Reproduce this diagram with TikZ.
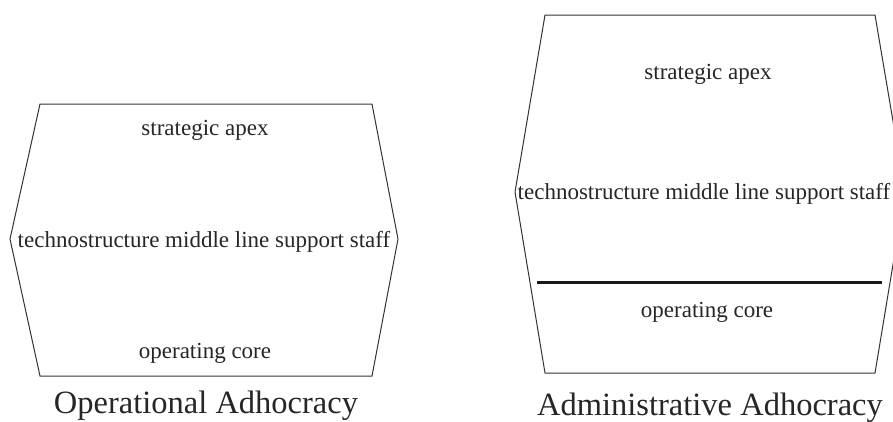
\documentclass[tikz,border=0pt]{standalone}
\usepackage{fontspec}
\setmainfont{Liberation Serif}
\begin{document}
\begin{tikzpicture}[x=1pt,y=-1pt,
  hexline/.style={draw=black!80, line width=1pt, line join=miter},
  divider/.style={draw=black!90, line width=3pt},
  lbl/.style={font=\fontsize{23}{27}\selectfont, inner sep=0pt, anchor=base, text=black!85},
  captiontext/.style={font=\fontsize{32.5}{38}\selectfont, inner sep=0pt, anchor=base, text=black!85}]
\useasboundingbox (0,0) rectangle (893,421);
% left hexagon
\coordinate (La) at (40,104);
\coordinate (Lb) at (372,104);
\coordinate (Lc) at (398,239);
\coordinate (Ld) at (372,376);
\coordinate (Le) at (40,376);
\coordinate (Lf) at (10,239);
\draw[hexline] (La) -- (Lb) -- (Lc) -- (Ld) -- (Le) -- (Lf) -- cycle;
\node[lbl] (lapex) at (205,135) {strategic apex};
\node[lbl] (lmid) at (204,247) {technostructure middle line support staff};
\node[lbl] (lcore) at (205,358) {operating core};
\node[captiontext] (lcap) at (206,413) {Operational Adhocracy};
% right hexagon
\coordinate (Ra) at (545,15);
\coordinate (Rb) at (875,15);
\coordinate (Rc) at (905,192);
\coordinate (Rd) at (875,373);
\coordinate (Re) at (545,373);
\coordinate (Rf) at (515,192);
\draw[hexline] (Ra) -- (Rb) -- (Rc) -- (Rd) -- (Re) -- (Rf) -- cycle;
\coordinate (Dl) at (537,282);
\coordinate (Dr) at (882,282);
\draw[divider] (Dl) -- (Dr);
\node[lbl] (rapex) at (708,79) {strategic apex};
\node[lbl] (rmid) at (704,199) {technostructure middle line support staff};
\node[lbl] (rcore) at (707,317) {operating core};
\node[captiontext] (rcap) at (710,415) {Administrative Adhocracy};
\end{tikzpicture}
\end{document}
